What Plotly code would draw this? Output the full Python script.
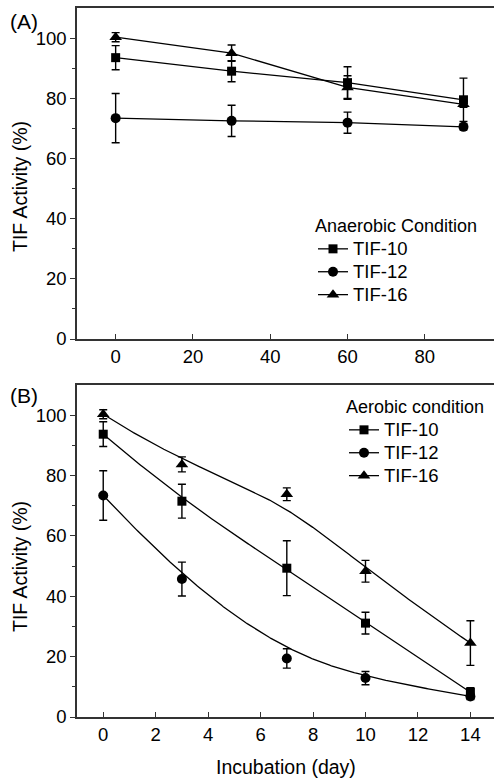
import numpy as np
import plotly.graph_objects as go

# ---- data ----
days_anaerobic = [0, 30, 60, 90]
days_aerobic = [0, 3, 7, 10, 14]
series_names = ["TIF-10", "TIF-12", "TIF-16"]

anaerobic_tif10 = [93.5, 89.0, 85.2, 79.5]
anaerobic_tif10_err = [4.0, 3.5, 5.3, 7.2]
anaerobic_tif12 = [73.4, 72.5, 71.9, 70.5]
anaerobic_tif12_err = [8.2, 5.2, 3.5, 1.0]
anaerobic_tif16 = [100.3, 95.0, 83.6, 78.0]
anaerobic_tif16_err = [1.5, 2.7, 3.9, 1.0]

aerobic_tif10 = [93.7, 71.5, 49.3, 31.1, 8.2]
aerobic_tif10_err = [4.1, 5.6, 9.1, 3.6, 1.5]
aerobic_tif12 = [73.4, 45.7, 19.4, 12.9, 6.8]
aerobic_tif12_err = [8.2, 5.6, 3.2, 2.2, 1.0]
aerobic_tif16 = [100.3, 83.7, 73.8, 48.3, 24.5]
aerobic_tif16_err = [1.5, 2.5, 2.1, 3.6, 7.4]

symbols = ["square", "circle", "triangle-up"]
symbol_sizes = [9, 10, 11]

FONT = "Liberation Sans, Arial, sans-serif"
W, H = 494, 780


def legend_label(name):
    # larger label text while the legend row height follows the legend font size
    return f'<span style="font-size:18.5px">{name}</span>'


def bspline_curve(xs, ys, n=300, degree=3):
    """Clamped uniform B-spline using the data points as control points."""
    P = np.column_stack([xs, ys]).astype(float)
    m = len(P)
    p = min(degree, m - 1)
    inner = np.linspace(0.0, 1.0, m - p + 1)
    knots = np.concatenate([np.zeros(p), inner, np.ones(p)])

    def basis(i, k, t):
        if k == 0:
            return 1.0 if knots[i] <= t < knots[i + 1] else 0.0
        a = 0.0
        d1 = knots[i + k] - knots[i]
        if d1 > 0:
            a = (t - knots[i]) / d1 * basis(i, k - 1, t)
        b = 0.0
        d2 = knots[i + k + 1] - knots[i + 1]
        if d2 > 0:
            b = (knots[i + k + 1] - t) / d2 * basis(i + 1, k - 1, t)
        return a + b

    ts = np.linspace(0.0, 1.0 - 1e-9, n)
    pts = np.array([sum(basis(i, p, t) * P[i] for i in range(m)) for t in ts])
    return pts[:, 0], pts[:, 1]


fig = go.Figure()

# Panel A: anaerobic (straight segments)
anaerobic = [
    (anaerobic_tif10, anaerobic_tif10_err),
    (anaerobic_tif12, anaerobic_tif12_err),
    (anaerobic_tif16, anaerobic_tif16_err),
]
for name, (vals, errs), sym, sz in zip(series_names, anaerobic, symbols, symbol_sizes):
    fig.add_trace(go.Scatter(
        x=days_anaerobic, y=vals, name=legend_label(name), mode="lines+markers",
        line=dict(color="black", width=1.3),
        marker=dict(symbol=sym, size=sz, color="black"),
        error_y=dict(type="data", array=errs, color="black", thickness=1.4, width=4),
        xaxis="x", yaxis="y", legend="legend",
    ))

# Panel B: aerobic (smoothed B-spline through the measured points)
aerobic = [
    (aerobic_tif10, aerobic_tif10_err),
    (aerobic_tif12, aerobic_tif12_err),
    (aerobic_tif16, aerobic_tif16_err),
]
for name, (vals, errs), sym, sz in zip(series_names, aerobic, symbols, symbol_sizes):
    cx, cy = bspline_curve(days_aerobic, vals)
    fig.add_trace(go.Scatter(
        x=cx, y=cy, mode="lines", line=dict(color="black", width=1.3),
        showlegend=False, hoverinfo="skip", xaxis="x2", yaxis="y2",
    ))
    fig.add_trace(go.Scatter(
        x=days_aerobic, y=vals, mode="markers", showlegend=False,
        marker=dict(symbol=sym, size=sz, color="black"),
        error_y=dict(type="data", array=errs, color="black", thickness=1.4, width=4),
        xaxis="x2", yaxis="y2",
    ))
    # legend entry with line + marker
    fig.add_trace(go.Scatter(
        x=[None], y=[None], name=legend_label(name), mode="lines+markers",
        line=dict(color="black", width=1.3),
        marker=dict(symbol=sym, size=sz, color="black"),
        xaxis="x2", yaxis="y2", legend="legend2",
    ))

axis_line = dict(showline=True, linecolor="#333333", linewidth=1.6,
                 showgrid=False, zeroline=False, automargin=False,
                 tickfont=dict(family=FONT, size=18.5, color="black"),
                 tickcolor="#333333", tickwidth=1.4)

x_left = 77 / W


def ydom(top_px, bottom_px):
    return [1 - bottom_px / H, 1 - top_px / H]


def paper_text(text, x_px, y_px, size, angle=0):
    return dict(text=text, x=x_px / W, y=1 - y_px / H, xref="paper", yref="paper",
                xanchor="center", yanchor="middle", textangle=angle,
                showarrow=False, font=dict(family=FONT, size=size, color="black"))


fig.update_layout(
    width=W, height=H,
    margin=dict(l=0, r=0, t=0, b=0, pad=0, autoexpand=False),
    paper_bgcolor="white", plot_bgcolor="white",
    font=dict(family=FONT, color="black"),
    xaxis=dict(domain=[x_left, 1.0], range=[-10, 97.9], tickvals=[0, 20, 40, 60, 80],
               ticks="inside", ticklen=5, anchor="y", mirror=True, **axis_line),
    yaxis=dict(domain=ydom(8, 339), range=[0, 110], tickvals=[0, 20, 40, 60, 80, 100],
               ticks="outside", ticklen=5, anchor="x",
               minor=dict(tickvals=[10, 30, 50, 70, 90], ticks="outside", ticklen=3,
                          tickcolor="#333333", tickwidth=1.2),
               **axis_line),
    xaxis2=dict(domain=[x_left, 1.0], range=[-1, 14.9], tickvals=list(range(0, 15, 2)),
                ticks="inside", ticklen=5, anchor="y2", mirror=True, **axis_line),
    yaxis2=dict(domain=ydom(385, 717), range=[0, 110], tickvals=[0, 20, 40, 60, 80, 100],
                ticks="outside", ticklen=5, anchor="x2",
                minor=dict(tickvals=[10, 30, 50, 70, 90], ticks="outside", ticklen=3,
                           tickcolor="#333333", tickwidth=1.2),
                **axis_line),
    legend=dict(x=313 / W, xanchor="left", y=1 - 209 / H, yanchor="top",
                bgcolor="rgba(0,0,0,0)", borderwidth=0,
                title=dict(text="Anaerobic Condition", font=dict(family=FONT, size=18)),
                font=dict(family=FONT, size=15.3), tracegroupgap=0),
    legend2=dict(x=344 / W, xanchor="left", y=1 - 390 / H, yanchor="top",
                 bgcolor="rgba(0,0,0,0)", borderwidth=0,
                 title=dict(text="Aerobic condition", font=dict(family=FONT, size=18)),
                 font=dict(family=FONT, size=15.3), tracegroupgap=0),
    annotations=[
        paper_text("(A)", 24, 21, 21),
        paper_text("(B)", 24, 395, 21),
        paper_text("TIF Activity (%)", 20, 187, 19.5, -90),
        paper_text("TIF Activity (%)", 20, 567, 19.5, -90),
        paper_text("Incubation (day)", 286, 767, 19.5),
    ],
)

fig.write_html("out.html")
